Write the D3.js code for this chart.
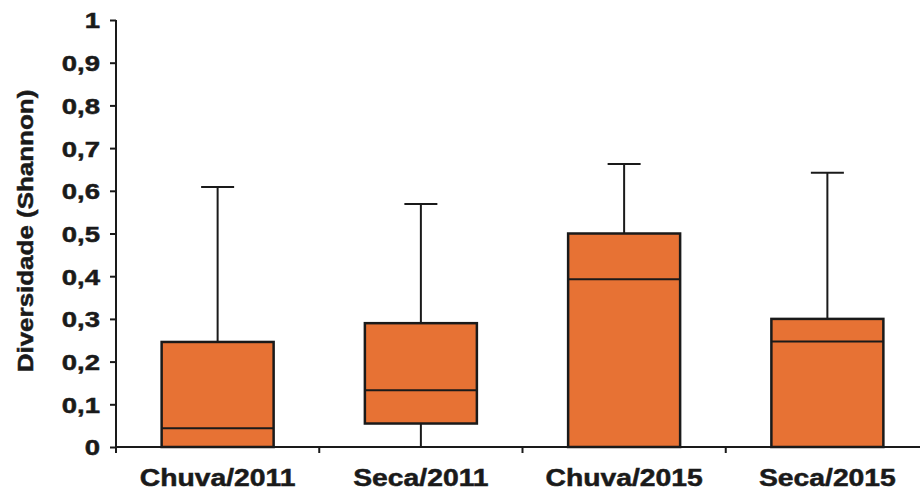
<!DOCTYPE html>
<html>
<head>
<meta charset="utf-8">
<script src="https://cdn.jsdelivr.net/npm/d3@7"></script>
<style>
  html, body { margin: 0; padding: 0; background: #fff; }
  svg { display: block; }
  text { font-family: "Liberation Sans", Arial, sans-serif; font-weight: bold; fill: #1a1a1a; stroke: #1a1a1a; stroke-width: 0.5px; }
</style>
</head>
<body>
<svg id="chart" width="920" height="494"></svg>
<script>
// Shannon diversity per season/year
const categories = ["Chuva/2011", "Seca/2011", "Chuva/2015", "Seca/2015"];
const whiskerLow = [0, 0, 0, 0];
const quartile1 = [0, 0.055, 0, 0];
const medians   = [0.044, 0.133, 0.393, 0.247];
const quartile3 = [0.246, 0.29, 0.5, 0.30];
const whiskerHigh = [0.609, 0.569, 0.663, 0.642];
const yTicks = [0, 0.1, 0.2, 0.3, 0.4, 0.5, 0.6, 0.7, 0.8, 0.9, 1];
const yTitle = "Diversidade (Shannon)";

const svg = d3.select("#chart");
const x = d3.scaleBand().domain(categories).range([116, 929]).padding(0);
const y = d3.scaleLinear().domain([0, 1]).range([447, 20]);

const fmt = v => d3.format(".1~f")(v).replace(".", ",");

// Y axis
const yAxis = svg.append("g")
  .attr("transform", "translate(116,0)")
  .call(d3.axisLeft(y).tickValues(yTicks).tickSize(6).tickPadding(10).tickFormat(fmt));
yAxis.select(".domain").attr("stroke", "#1a1a1a").attr("stroke-width", 2).attr("d", `M0,${y(1)}V${y(0) + 6}`);
yAxis.selectAll(".tick line").attr("stroke", "#1a1a1a").attr("stroke-width", 2);
yAxis.selectAll(".tick text")
  .attr("font-size", 22)
  .attr("dy", "0.36em")
  .attr("text-anchor", "end")
  .each(function () {
    const t = d3.select(this);
    const xx = +t.attr("x");
    t.attr("x", null).attr("transform", `translate(${xx},0) scale(1.25,1)`);
  });

// X axis
const xAxis = svg.append("g")
  .attr("transform", `translate(0,${y(0)})`)
  .call(d3.axisBottom(x).tickSize(0).tickPadding(0).tickFormat(""));
xAxis.select(".domain").attr("stroke", "#1a1a1a").attr("stroke-width", 2).attr("d", `M116,0H929`);
xAxis.selectAll(".tick").remove();

// Band boundary ticks
const bounds = categories.map(c => x(c)).concat([x.range()[1]]);
svg.append("g").selectAll("line").data(bounds).join("line")
  .attr("x1", d => d).attr("x2", d => d)
  .attr("y1", y(0)).attr("y2", y(0) + 6)
  .attr("stroke", "#1a1a1a").attr("stroke-width", 2);

// Category labels
svg.append("g").selectAll("text").data(categories).join("text")
  .attr("transform", d => `translate(${x(d) + x.bandwidth() / 2},486) scale(1.18,1)`)
  .attr("text-anchor", "middle")
  .attr("font-size", 24)
  .text(d => d);

// Y title
svg.append("text")
  .attr("transform", "translate(33,231) rotate(-90) scale(1.18,1)")
  .attr("text-anchor", "middle")
  .attr("font-size", 22)
  .text(yTitle);

// Boxes
const boxW = 112, capW = 33;
const rows = categories.map((c, i) => ({
  c, lo: whiskerLow[i], q1: quartile1[i], med: medians[i], q3: quartile3[i], hi: whiskerHigh[i]
}));
const g = svg.append("g").selectAll("g").data(rows).join("g")
  .attr("transform", d => `translate(${x(d.c) + x.bandwidth() / 2},0)`);

const stroke = "#1a1a1a";
// upper whisker
g.append("line").attr("x1", 0).attr("x2", 0)
  .attr("y1", d => y(d.q3)).attr("y2", d => y(d.hi))
  .attr("stroke", stroke).attr("stroke-width", 2);
g.append("line").attr("x1", -capW / 2).attr("x2", capW / 2)
  .attr("y1", d => y(d.hi)).attr("y2", d => y(d.hi))
  .attr("stroke", stroke).attr("stroke-width", 2);
// lower whisker
g.filter(d => d.q1 > d.lo).append("line").attr("x1", 0).attr("x2", 0)
  .attr("y1", d => y(d.q1)).attr("y2", d => y(d.lo))
  .attr("stroke", stroke).attr("stroke-width", 2);
g.filter(d => d.q1 > d.lo).append("line").attr("x1", -capW / 2).attr("x2", capW / 2)
  .attr("y1", d => y(d.lo)).attr("y2", d => y(d.lo))
  .attr("stroke", stroke).attr("stroke-width", 2);
// box
g.append("rect")
  .attr("x", -boxW / 2).attr("width", boxW)
  .attr("y", d => y(d.q3)).attr("height", d => y(d.q1) - y(d.q3))
  .attr("fill", "#e77234").attr("stroke", stroke).attr("stroke-width", 2.5);
// median
g.append("line").attr("x1", -boxW / 2).attr("x2", boxW / 2)
  .attr("y1", d => y(d.med)).attr("y2", d => y(d.med))
  .attr("stroke", stroke).attr("stroke-width", 2);
</script>
</body>
</html>
